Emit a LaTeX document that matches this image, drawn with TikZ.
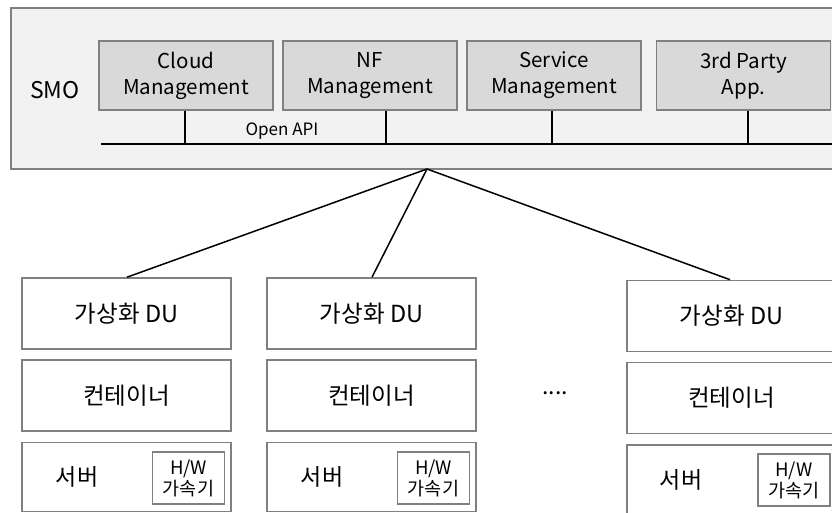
\documentclass[tikz,border=0pt]{standalone}
\usepackage{fontspec}
\setmainfont{Noto Sans CJK KR}
\begin{document}
\begin{tikzpicture}[x=1pt,y=-1pt,
  frame/.style={draw=black!50, line width=1.6pt},
  smobox/.style={frame, fill=black!5},
  mgmt/.style={frame, fill=black!15, minimum width=174pt, minimum height=69pt,
    inner sep=0pt, align=center, font={\fontsize{20.5}{26}\selectfont}},
  layer/.style={frame, fill=white, minimum width=209pt, minimum height=71pt,
    inner sep=0pt, font={\fontsize{23.5}{26}\selectfont}},
  hwbox/.style={frame, fill=white, minimum width=72pt, minimum height=52pt,
    inner sep=0pt, align=center, font={\fontsize{18.5}{21}\selectfont}},
  link/.style={black, line width=1.8pt},
  plain/.style={inner sep=0pt}
]
\clip (0,0) rectangle (832,513);

% SMO frame
\node[smobox, minimum width=840pt, minimum height=161pt, inner sep=0pt,
      anchor=north west] (smo) at (10,7.5) {};
\node[plain, font={\fontsize{23}{26}\selectfont}] (smolbl) at (55,90) {SMO};

% management functions
\node[mgmt] (cloud) at (186,75.5) {Cloud\\Management};
\node[mgmt] (nf)    at (370,75.5) {NF\\Management};
\node[mgmt] (svc)   at (554,75.5) {Service\\Management};
\node[mgmt] (third) at (743.5,75.5) {3rd Party\\App.};

% Open API bus
\coordinate (busL) at (101,144);
\coordinate (busR) at (840,144);
\draw[link] (busL) -- (busR);
\draw[link] (cloud.south -| 185,0) -- (185,144);
\draw[link] (nf.south -| 386,0) -- (386,144);
\draw[link] (svc.south -| 552,0) -- (552,144);
\draw[link] (third.south -| 748,0) -- (748,144);
\node[plain, font={\fontsize{17}{20}\selectfont}] (api) at (282,131) {Open API};

% column 1
\node[layer] (du1)  at (126.5,313.5) {가상화 DU};
\node[layer] (ct1)  at (126.5,395.5) {컨테이너};
\node[layer, minimum height=69pt] (sv1) at (126.5,477) {};
\node[plain] (svl1) at (77,477) {\fontsize{23}{26}\selectfont 서버};
\node[hwbox] (hw1) at (188.5,478) {H/W\\가속기};

% column 2
\node[layer] (du2)  at (371.5,313.5) {가상화 DU};
\node[layer] (ct2)  at (371.5,395.5) {컨테이너};
\node[layer, minimum height=69pt] (sv2) at (371.5,477) {};
\node[plain] (svl2) at (322,477) {\fontsize{23}{26}\selectfont 서버};
\node[hwbox] (hw2) at (433.5,478) {H/W\\가속기};

% column 3
\node[layer] (du3)  at (731.5,316) {가상화 DU};
\node[layer] (ct3)  at (731.5,398) {컨테이너};
\node[layer, minimum height=69pt] (sv3) at (731.5,479.5) {};
\node[plain] (svl3) at (681,479.5) {\fontsize{23}{26}\selectfont 서버};
\node[hwbox] (hw3) at (794,480) {H/W\\가속기};

\node[plain, font={\fontsize{23}{24}\selectfont}] (dots) at (555,393) {....};

% links from SMO to each DU
\coordinate (hub) at (427,169);
\draw[link, line width=1.5pt] (hub) -- (du1.north -| 127,0);
\draw[link, line width=1.5pt] (hub) -- (du2.north -| 372,0);
\draw[link, line width=1.5pt] (hub) -- (du3.north -| 730,0);
\end{tikzpicture}
\end{document}
